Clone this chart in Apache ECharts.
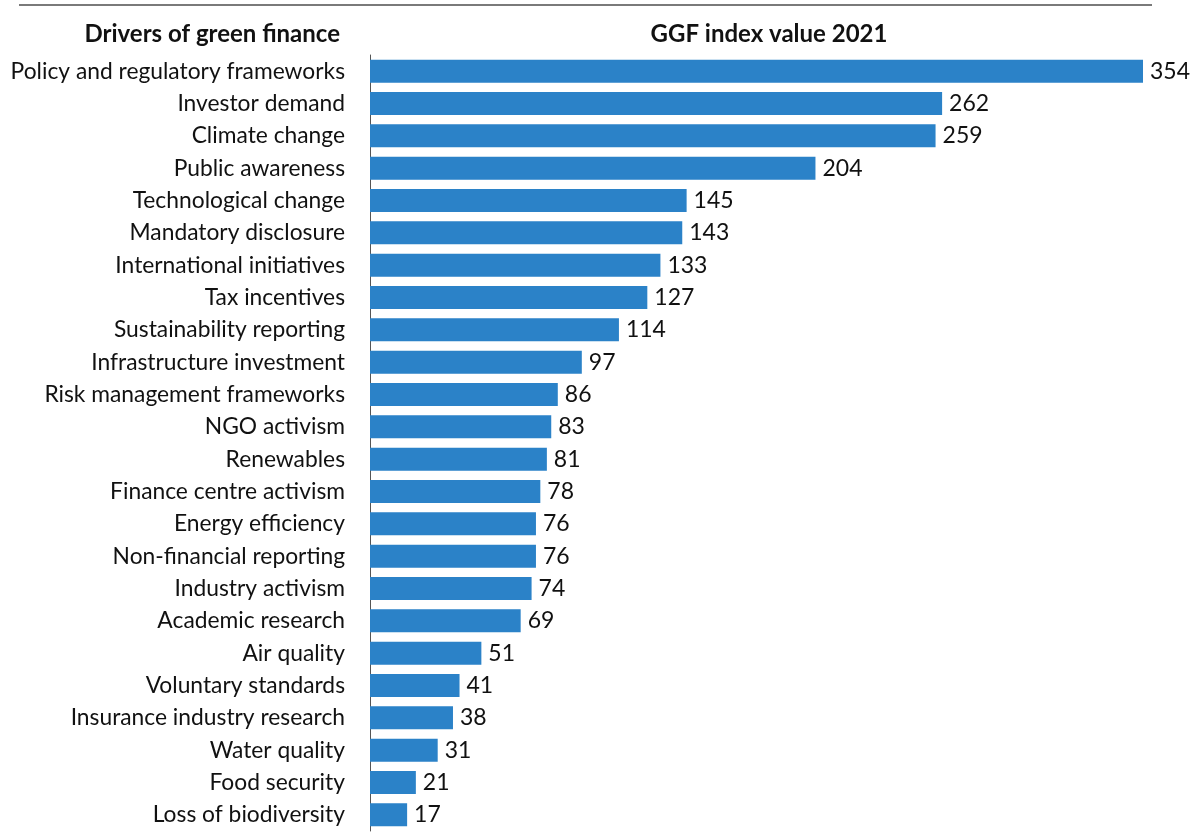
<!DOCTYPE html>
<html>
<head>
<meta charset="utf-8">
<script src="https://cdn.jsdelivr.net/npm/echarts@6/dist/echarts.min.js"></script>
<style>
html,body{margin:0;padding:0;background:#fff;}
#c{width:1191px;height:834px;}
</style>
</head>
<body>
<div id="c"></div>
<script>
const categories = [
  "Policy and regulatory frameworks","Investor demand","Climate change","Public awareness",
  "Technological change","Mandatory disclosure","International initiatives","Tax incentives",
  "Sustainability reporting","Infrastructure investment","Risk management frameworks","NGO activism",
  "Renewables","Finance centre activism","Energy efficiency","Non-financial reporting",
  "Industry activism","Academic research","Air quality","Voluntary standards",
  "Insurance industry research","Water quality","Food security","Loss of biodiversity"
];
const values = [354,262,259,204,145,143,133,127,114,97,86,83,81,78,76,76,74,69,51,41,38,31,21,17];
const leftHeader = "Drivers of green finance";
const rightHeader = "GGF index value 2021";

const chart = echarts.init(document.getElementById('c'));
chart.setOption({
  animation:false,
  backgroundColor:'#fff',
  textStyle:{fontFamily:'Lato'},
  graphic:[
    {type:'line',shape:{x1:19,y1:5,x2:1152,y2:5},style:{stroke:'#7a7a7a',lineWidth:2}},
    {type:'text',x:340,y:34,style:{text:leftHeader,font:'bold 24px Lato',fill:'#111',textAlign:'right',textVerticalAlign:'middle'}},
    {type:'text',x:769,y:34,style:{text:rightHeader,font:'bold 24px Lato',fill:'#111',textAlign:'center',textVerticalAlign:'middle'}}
  ],
  grid:{left:370,right:48,top:55,bottom:3,containLabel:false},
  xAxis:{type:'value',min:0,max:354,show:false},
  yAxis:{
    type:'category',data:categories,inverse:true,offset:12,
    axisLine:{show:true,lineStyle:{color:'#555',width:1}},
    axisTick:{show:false},
    axisLabel:{margin:13,fontSize:22.8,color:'#111',fontFamily:'Lato'}
  },
  series:[{
    type:'bar',data:values,barCategoryGap:'29%',
    itemStyle:{color:'#2b82c8'},
    label:{show:true,position:'right',distance:7,fontSize:23,color:'#111',fontFamily:'Lato'}
  }]
});
</script>
</body>
</html>
